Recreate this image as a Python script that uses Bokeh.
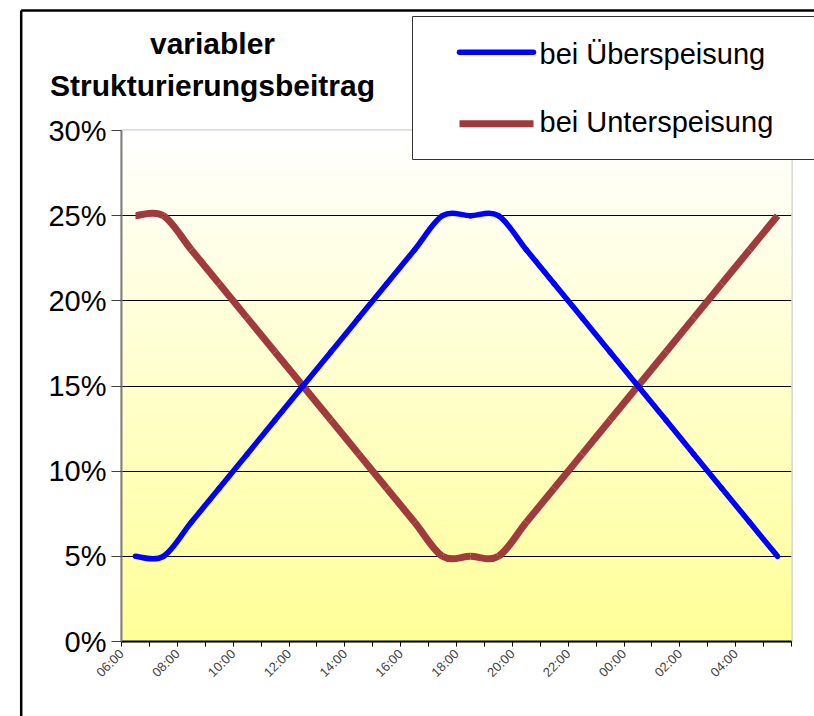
import math
import numpy as np
from bokeh.plotting import figure
from bokeh.models import (Range1d, FixedTicker, PrintfTickFormatter, ColumnDataSource, GridBox)
from bokeh.core.properties import value
from bokeh.embed import file_html
from bokeh.resources import INLINE

# ---------------- data ----------------
hours = ["06:00", "07:00", "08:00", "09:00", "10:00", "11:00", "12:00", "13:00",
         "14:00", "15:00", "16:00", "17:00", "18:00", "19:00", "20:00", "21:00",
         "22:00", "23:00", "00:00", "01:00", "02:00", "03:00", "04:00", "05:00"]
ueber = [5, 5, 7, 9, 11, 13, 15, 17, 19, 21, 23, 25,
         25, 25, 23, 21, 19, 17, 15, 13, 11, 9, 7, 5]
unter = [25, 25, 23, 21, 19, 17, 15, 13, 11, 9, 7, 5,
         5, 5, 7, 9, 11, 13, 15, 17, 19, 21, 23, 25]
y_ticks = [0, 5, 10, 15, 20, 25, 30]
title_lines = ["variabler", "Strukturierungsbeitrag"]
series_names = ["bei Überspeisung", "bei Unterspeisung"]

FONT = "Liberation Sans"
BLUE = "#0000ff"
RED = "#a03a3c"
W, H = 814, 716

# ---------------- main chart ----------------
p = figure(width=W, height=H, x_range=Range1d(0, len(hours)), y_range=Range1d(0, 30),
           output_backend="svg", toolbar_location=None, title=None,
           min_border_left=121, min_border_right=23, min_border_top=130, min_border_bottom=75)
p.background_fill_color = "white"
p.border_fill_color = "white"
p.outline_line_color = "#b8b8b8"
p.outline_line_width = 2

# gradient background (white top -> light yellow bottom)
nstrip = 120
edges = np.linspace(0, 30, nstrip + 1)
mids = (edges[:-1] + edges[1:]) / 2
cols = ["#ffff%02x" % int(round(152 + (255 - 152) * m / 30)) for m in mids]
p.quad(left=0, right=len(hours), bottom=edges[:-1], top=edges[1:], fill_color=cols,
       line_color=cols, line_width=1, level="image")

# grid
p.xgrid.visible = False
p.ygrid.ticker = FixedTicker(ticks=y_ticks[1:-1])
p.ygrid.grid_line_color = "black"
p.ygrid.grid_line_width = 1

# axes
yax = p.yaxis[0]
yax.ticker = FixedTicker(ticks=y_ticks)
yax.formatter = PrintfTickFormatter(format="%d%%")
yax.axis_line_color = "#808080"
yax.axis_line_width = 2
yax.major_tick_line_color = "#404040"
yax.major_tick_out = 10
yax.major_tick_in = 0
yax.minor_tick_line_color = None
yax.major_label_text_font = FONT
yax.major_label_text_font_size = "29px"
yax.major_label_text_color = "black"
yax.major_label_standoff = 5

xax = p.xaxis[0]
xax.ticker = FixedTicker(ticks=list(range(len(hours) + 1)))
xax.major_label_overrides = {i: (hours[i] if (i < len(hours) and i % 2 == 0) else "")
                             for i in range(len(hours) + 1)}
xax.axis_line_color = "black"
xax.axis_line_width = 2
xax.major_tick_line_color = "black"
xax.major_tick_out = 5
xax.major_tick_in = 0
xax.minor_tick_line_color = None
xax.major_label_text_font = FONT
xax.major_label_text_font_size = "13px"
xax.major_label_orientation = math.pi / 4
xax.major_label_standoff = 5


# smoothed lines (Excel-style bezier through the data points, one point per hour)
def bezier_source(vals):
    xs = np.arange(len(vals)) + 0.5
    ys = np.asarray(vals, dtype=float)
    n = len(vals)
    d = dict(x0=[], y0=[], x1=[], y1=[], cx0=[], cy0=[], cx1=[], cy1=[])
    for i in range(n - 1):
        i0 = max(i - 1, 0)
        i3 = min(i + 2, n - 1)
        d["x0"].append(xs[i]); d["y0"].append(ys[i])
        d["x1"].append(xs[i + 1]); d["y1"].append(ys[i + 1])
        d["cx0"].append(xs[i] + (xs[i + 1] - xs[i0]) / 6)
        d["cy0"].append(ys[i] + (ys[i + 1] - ys[i0]) / 6)
        d["cx1"].append(xs[i + 1] - (xs[i3] - xs[i]) / 6)
        d["cy1"].append(ys[i + 1] - (ys[i3] - ys[i]) / 6)
    return ColumnDataSource(d)


p.bezier(x0="x0", y0="y0", x1="x1", y1="y1", cx0="cx0", cy0="cy0", cx1="cx1", cy1="cy1",
         source=bezier_source(unter), line_color=RED, line_width=7, line_cap="butt",
         line_join="round")
p.bezier(x0="x0", y0="y0", x1="x1", y1="y1", cx0="cx0", cy0="cy0", cx1="cx1", cy1="cy1",
         source=bezier_source(ueber), line_color=BLUE, line_width=5.5, line_cap="round",
         line_join="round")

# ---------------- overlay: title, legend, chart border (pixel coordinates) ----------------
o = figure(width=W, height=H, x_range=Range1d(0, W), y_range=Range1d(H, 0),
           output_backend="svg", toolbar_location=None, title=None,
           x_axis_location=None, y_axis_location=None, min_border=0)
o.grid.visible = False
o.outline_line_color = None
o.background_fill_alpha = 0
o.border_fill_alpha = 0

# keep the overlay's frame independent of the chart's frame
if "frame_align" in p.properties():
    p.frame_align = False
    o.frame_align = False

# outer chart border (left and top edges visible)
o.segment(x0=[20.7, 20.7], y0=[10, 10], x1=[20.7, W + 10], y1=[H + 10, 10],
          line_color="black", line_width=2.5)

# title
o.text(x=[212, 212], y=[43, 85], text=title_lines, text_align="center",
       text_baseline="alphabetic", text_font=value(FONT), text_font_size="30px",
       text_font_style="bold", text_color="black")

# legend
o.quad(left=412, right=W + 30, top=16, bottom=159, fill_color="white",
       line_color="#333333", line_width=1)
o.segment(x0=459, y0=51.7, x1=533, y1=51.7, line_color=BLUE, line_width=5.5,
          line_cap="round")
o.segment(x0=459, y0=123.3, x1=533, y1=123.3, line_color=RED, line_width=7,
          line_cap="butt")
o.text(x=[539, 539], y=[53.5, 121], text=series_names, text_align="left",
       text_baseline="alphabetic", text_font=value(FONT), text_font_size="29px",
       text_color="black")

layout = GridBox(children=[(p, 0, 0), (o, 0, 0)])

open("out.html", "w").write(file_html(layout, INLINE))
